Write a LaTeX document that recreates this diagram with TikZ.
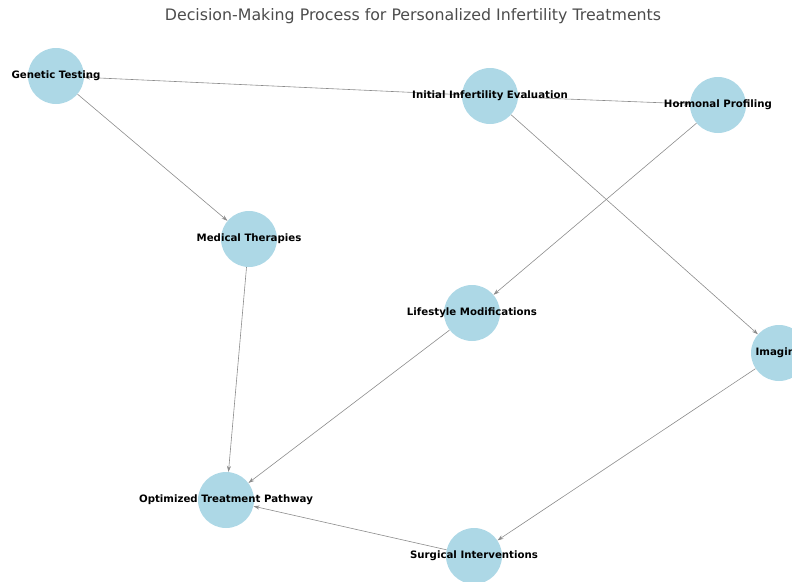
\documentclass[tikz,border=0pt]{standalone}
\usepackage{fontspec}
\setmainfont{DejaVu Sans}
\usepackage{tikz}
\usetikzlibrary{arrows.meta}
\pgfdeclarelayer{bg}
\pgfsetlayers{bg,main}
\definecolor{nodeblue}{HTML}{ADD8E6}
\tikzset{step node/.style={circle, fill=nodeblue, draw=none, minimum size=56pt, inner sep=0pt},
    steplabel/.style={font=\fontsize{10.2}{11}\selectfont\bfseries, text=black, inner sep=0pt},
    arr/.style={->, draw=black!45, line width=0.6pt}}

\begin{document}
\begin{tikzpicture}[x=1pt, y=-1pt, >={Stealth[length=6pt, width=4pt]}]
    \clip (0,0) rectangle (792,581);

    \node (title) at (413,16) {\fontsize{15.8}{18}\selectfont\color{black!70}Decision-Making Process for Personalized Infertility Treatments};

    \node (gen) at (56,76) [step node, label={[steplabel]center:Genetic Testing}] {};
    \node (ini) at (490,96) [step node, label={[steplabel]center:Initial Infertility Evaluation}] {};
    \node (hor) at (718,105) [step node, label={[steplabel]center:Hormonal Profiling}] {};
    \node (med) at (249,239) [step node, label={[steplabel]center:Medical Therapies}] {};
    \node (lif) at (472,313) [step node, label={[steplabel]center:Lifestyle Modifications}] {};
    \node (img) at (779,353) [step node, label={[steplabel]center:Imaging}] {};
    \node (opt) at (226,500) [step node, label={[steplabel]center:Optimized Treatment Pathway}] {};
    \node (sur) at (474,556) [step node, label={[steplabel]center:Surgical Interventions}] {};

    \begin{pgfonlayer}{bg}
        \draw (ini) edge[arr] (gen);
        \draw (ini) edge[arr] (hor);
        \draw (ini) edge[arr] (img);
        \draw (gen) edge[arr] (med);
        \draw (hor) edge[arr] (lif);
        \draw (med) edge[arr] (opt);
        \draw (lif) edge[arr] (opt);
        \draw (img) edge[arr] (sur);
        \draw (sur) edge[arr] (opt);
    \end{pgfonlayer}
\end{tikzpicture}
\end{document}
